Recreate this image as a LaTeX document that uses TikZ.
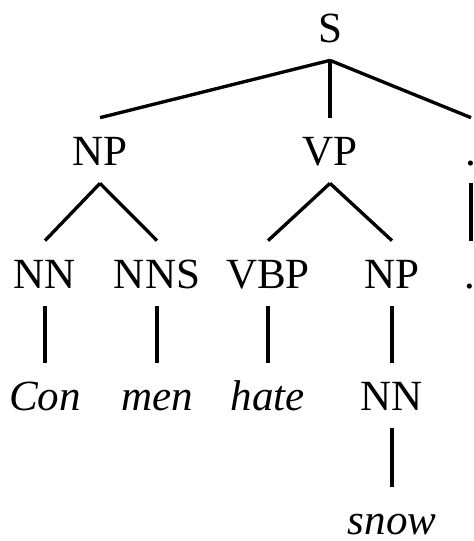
\documentclass[tikz,border=0pt]{standalone}
\usepackage{fontspec}
\setmainfont{Liberation Serif}
\usepackage{tikz}

\tikzset{
  cat/.style={anchor=base, inner sep=0pt, text height=0.94cm, text depth=0.36cm,
    font=\fontsize{24.5}{28}\selectfont},
  word/.style={cat, font=\fontsize{24.5}{28}\selectfont\itshape},
  edge/.style={line width=1.9pt}
}

\begin{document}
\begin{tikzpicture}
  \useasboundingbox (0,0) rectangle (9.48,-10.82);
  \clip (0,0) rectangle (9.48,-10.82);
  % Categories
  \node[cat] (s)    at (6.60,-0.84) {S};
  \node[cat] (np)   at (2.00,-3.30) {NP};
  \node[cat] (vp)   at (6.60,-3.30) {VP};
  \node[cat] (pct)  at (9.42,-3.30) {.};
  \node[cat] (nn)   at (0.90,-5.76) {NN};
  \node[cat] (nns)  at (3.14,-5.76) {NNS};
  \node[cat] (vbp)  at (5.36,-5.76) {VBP};
  \node[cat] (npo)  at (7.84,-5.76) {NP};
  \node[word] (dot) at (9.42,-5.76) {.};
  \node[cat] (nnb)  at (7.84,-8.20) {NN};
  % Words
  \node[word] (con)  at (0.90,-8.20) {Con};
  \node[word] (men)  at (3.14,-8.20) {men};
  \node[word] (hate) at (5.36,-8.20) {hate};
  \node[word] (snow) at (7.84,-10.68) {snow};
  % Branches
  \draw[edge] (s.south) -- (np.north);
  \draw[edge] (s.south) -- (vp.north);
  \draw[edge] (s.south) -- (pct.north);
  \draw[edge] (np.south) -- (nn.north);
  \draw[edge] (np.south) -- (nns.north);
  \draw[edge] (vp.south) -- (vbp.north);
  \draw[edge] (vp.south) -- (npo.north);
  \draw[edge] (pct.south) -- (dot.north);
  \draw[edge] (nn.south) -- (con.north);
  \draw[edge] (nns.south) -- (men.north);
  \draw[edge] (vbp.south) -- (hate.north);
  \draw[edge] (npo.south) -- (nnb.north);
  \draw[edge] (nnb.south) -- (snow.north);
\end{tikzpicture}
\end{document}
